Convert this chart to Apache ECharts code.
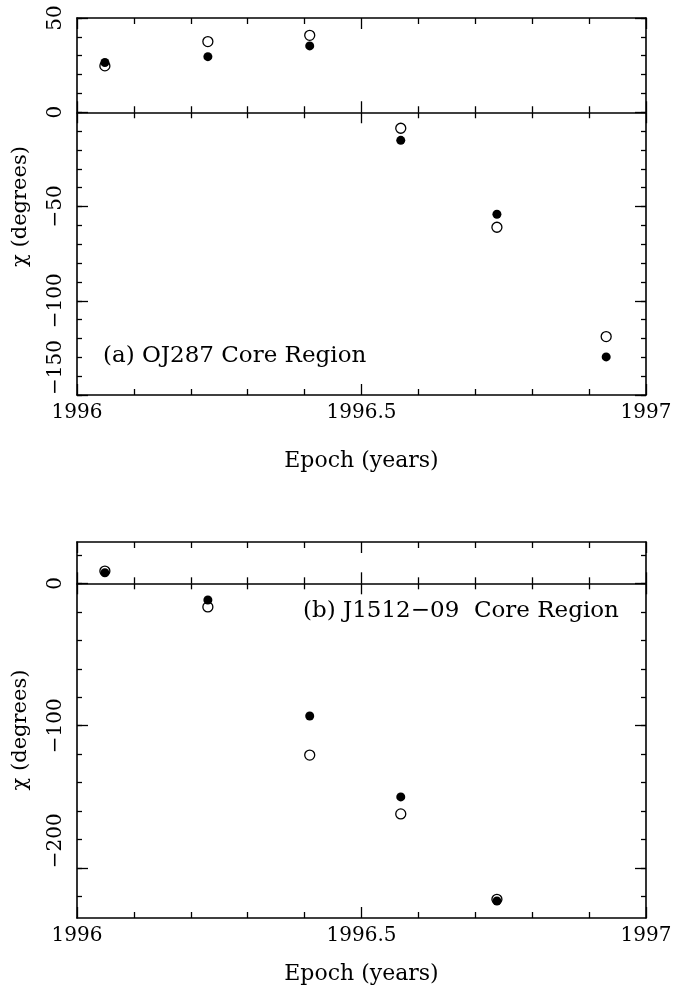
<!DOCTYPE html>
<html>
<head>
<meta charset="utf-8">
<script src="https://cdn.jsdelivr.net/npm/echarts@6/dist/echarts.min.js"></script>
<style>
  html, body { margin: 0; padding: 0; background: #fff; }
  #chart { width: 673px; height: 999px; }
</style>
</head>
<body>
<div id="chart"></div>
<script>
// Polarization angle chi of the core regions versus epoch.
const epochsA = [1996.049, 1996.230, 1996.409, 1996.569, 1996.738, 1996.930];
const chiFilledA = [26.4, 29.5, 35.2, -14.9, -54.1, -129.8];
const chiOpenA = [24.6, 37.5, 40.8, -8.5, -61.0, -119.0];

const epochsB = [1996.049, 1996.230, 1996.409, 1996.569, 1996.738];
const chiFilledB = [7.4, -11.7, -93.2, -150.0, -223.1];
const chiOpenB = [8.6, -16.6, -120.6, -161.9, -221.9];

const xRange = [1996, 1997];
const yRangeA = [-150, 50];
const yRangeB = [-235, 29];
const yMajorA = [-150, -100, -50, 0, 50];
const yMinorA = [-150, -140, -130, -120, -110, -100, -90, -80, -70, -60, -50, -40, -30, -20, -10, 0, 10, 20, 30, 40, 50];
const yMajorB = [-200, -100, 0];
const yMinorB = [-220, -200, -180, -160, -140, -120, -100, -80, -60, -40, -20, 0, 20];

const labelA = '(a) OJ287 Core Region';
const labelB = '(b) J1512\u221209  Core Region';
const xTitle = 'Epoch (years)';
const yTitle = '\u03c7 (degrees)';

const FONT = '"DejaVu Serif", serif';
const INK = '#000';
const LINE_W = 1.6;
const TICK_W = 1.3;

function minusFmt(v) {
  return v < 0 ? '\u2212' + Math.abs(v) : String(v);
}

// Four x axes per panel: frame bottom (labels), frame top, and the zero line
// drawn twice so its ticks cross it in both directions.
function xAxesFor(grid, zeroY, nameGap) {
  const base = {
    type: 'value', gridIndex: grid, min: xRange[0], max: xRange[1], interval: 0.5,
    splitLine: { show: false },
    minorTick: { show: true, splitNumber: 5, length: 6, lineStyle: { color: INK, width: TICK_W } },
    axisTick: { show: true, inside: true, length: 11, lineStyle: { color: INK, width: TICK_W } },
    axisLine: { show: true, onZero: false, lineStyle: { color: INK, width: LINE_W } },
    axisLabel: { show: false }
  };
  const bottom = Object.assign({}, base, {
    position: 'bottom',
    name: xTitle, nameLocation: 'middle', nameGap: nameGap,
    nameTextStyle: { fontFamily: FONT, fontSize: 22, color: INK },
    axisLabel: { show: true, margin: 8, fontFamily: FONT, fontSize: 20, color: INK,
      formatter: v => String(v) }
  });
  const top = Object.assign({}, base, { position: 'top' });
  const zeroUp = Object.assign({}, base, {
    position: 'bottom',
    axisLine: { show: true, onZero: true, onZeroAxisIndex: zeroY, lineStyle: { color: INK, width: LINE_W } }
  });
  const zeroDown = Object.assign({}, base, {
    position: 'bottom',
    axisTick: { show: true, inside: false, length: 11, lineStyle: { color: INK, width: TICK_W } },
    axisLine: { show: false, onZero: true, onZeroAxisIndex: zeroY }
  });
  return [bottom, top, zeroUp, zeroDown];
}

// Four y axes per panel: long and short ticks on the left (with labels) and right.
function yAxesFor(grid, range, majors, minors) {
  const tickStyle = { color: INK, width: TICK_W };
  const common = {
    type: 'value', gridIndex: grid, min: range[0], max: range[1],
    splitLine: { show: false }
  };
  const leftMajor = Object.assign({}, common, {
    position: 'left',
    name: yTitle, nameLocation: 'middle', nameGap: 46,
    nameTextStyle: { fontFamily: FONT, fontSize: 21, color: INK },
    axisLine: { show: true, onZero: false, lineStyle: { color: INK, width: LINE_W } },
    axisTick: { show: true, inside: true, length: 11, customValues: majors, lineStyle: tickStyle },
    axisLabel: { show: true, customValues: majors, rotate: 90, margin: 11,
      fontFamily: FONT, fontSize: 20, color: INK, formatter: minusFmt,
      alignMinLabel: 'left' }
  });
  const leftMinor = Object.assign({}, common, {
    position: 'left',
    axisLine: { show: false, onZero: false },
    axisTick: { show: true, inside: true, length: 5, customValues: minors, lineStyle: tickStyle },
    axisLabel: { show: false }
  });
  const rightMajor = Object.assign({}, common, {
    position: 'right',
    axisLine: { show: true, onZero: false, lineStyle: { color: INK, width: LINE_W } },
    axisTick: { show: true, inside: true, length: 11, customValues: majors, lineStyle: tickStyle },
    axisLabel: { show: false }
  });
  const rightMinor = Object.assign({}, common, {
    position: 'right',
    axisLine: { show: false, onZero: false },
    axisTick: { show: true, inside: true, length: 5, customValues: minors, lineStyle: tickStyle },
    axisLabel: { show: false }
  });
  return [leftMajor, leftMinor, rightMajor, rightMinor];
}

function pairs(xs, ys) {
  return xs.map((x, i) => [x, ys[i]]);
}

const openStyle = { color: '#fff', borderColor: INK, borderWidth: 1.3, opacity: 1 };
const filledStyle = { color: INK, opacity: 1 };

const chart = echarts.init(document.getElementById('chart'), null, { renderer: 'canvas' });
chart.setOption({
  animation: false,
  backgroundColor: '#fff',
  grid: [
    { left: 77, top: 18, width: 569, height: 377, containLabel: false, outerBoundsMode: 'none' },
    { left: 77, top: 542, width: 569, height: 376, containLabel: false, outerBoundsMode: 'none' }
  ],
  xAxis: xAxesFor(0, 0, 55).concat(xAxesFor(1, 4, 45)),
  yAxis: yAxesFor(0, yRangeA, yMajorA, yMinorA).concat(yAxesFor(1, yRangeB, yMajorB, yMinorB)),
  series: [
    { type: 'scatter', xAxisIndex: 0, yAxisIndex: 0, symbol: 'circle', symbolSize: 10,
      itemStyle: openStyle, data: pairs(epochsA, chiOpenA) },
    { type: 'scatter', xAxisIndex: 0, yAxisIndex: 0, symbol: 'circle', symbolSize: 9,
      itemStyle: filledStyle, data: pairs(epochsA, chiFilledA) },
    { type: 'scatter', xAxisIndex: 4, yAxisIndex: 4, symbol: 'circle', symbolSize: 10,
      itemStyle: openStyle, data: pairs(epochsB, chiOpenB) },
    { type: 'scatter', xAxisIndex: 4, yAxisIndex: 4, symbol: 'circle', symbolSize: 9,
      itemStyle: filledStyle, data: pairs(epochsB, chiFilledB) }
  ],
  graphic: [
    { type: 'text', left: 103, top: 345,
      style: { text: labelA, font: '23px ' + FONT, fill: INK } },
    { type: 'text', left: 303, top: 600,
      style: { text: labelB, font: '23px ' + FONT, fill: INK } }
  ]
});
</script>
</body>
</html>
